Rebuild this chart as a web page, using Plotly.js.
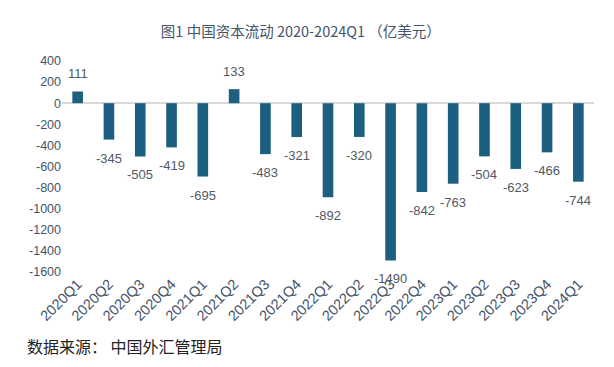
<!DOCTYPE html>
<html>
<head>
<meta charset="utf-8">
<script src="https://cdn.plot.ly/plotly-3.0.1.min.js"></script>
<style>html,body{margin:0;padding:0;background:#fff;}#chart{width:614px;height:367px;}</style>
</head>
<body>
<div id="chart"></div>
<script>
const categories = ["2020Q1","2020Q2","2020Q3","2020Q4","2021Q1","2021Q2","2021Q3","2021Q4","2022Q1","2022Q2","2022Q3","2022Q4","2023Q1","2023Q2","2023Q3","2023Q4","2024Q1"];
const values = [111,-345,-505,-419,-695,133,-483,-321,-892,-320,-1490,-842,-763,-504,-623,-466,-744];
const yTicks = [400,200,0,-200,-400,-600,-800,-1000,-1200,-1400,-1600];

const FONT = '"Liberation Sans", Arial, "Noto Sans CJK SC", sans-serif';
const CJK = '"Noto Sans CJK SC", "Liberation Sans", sans-serif';
const labelColor = '#44546a';

const annotations = categories.map((c, i) => ({
  x: c, y: values[i], xref: 'x', yref: 'y',
  text: String(values[i]), showarrow: false,
  yanchor: values[i] >= 0 ? 'bottom' : 'top',
  yshift: values[i] >= 0 ? 8 : -9,
  font: {family: FONT, size: 13, color: '#505a66'}
}));
annotations.push({
  xref: 'paper', yref: 'paper', x: -0.0695, y: -0.351, xanchor: 'left', yanchor: 'middle',
  text: '数据来源： 中国外汇管理局', showarrow: false,
  font: {family: CJK, size: 16, color: '#222222'}
});

Plotly.newPlot('chart', [{
  type: 'bar', x: categories, y: values,
  marker: {color: '#1d5f80'},
  hoverinfo: 'x+y'
}], {
  width: 614, height: 367,
  margin: {l: 62, r: 20, t: 61, b: 95},
  paper_bgcolor: '#ffffff', plot_bgcolor: '#ffffff',
  bargap: 0.66,
  showlegend: false,
  title: {text: '图1 中国资本流动 2020-2024Q1 （亿美元）', x: 0.49, xref: 'container', xanchor: 'center', y: 0.913, yref: 'container', yanchor: 'middle',
    font: {family: CJK, size: 14.5, color: labelColor}},
  xaxis: {
    type: 'category', tickangle: -45, showgrid: false, zeroline: false, showline: false, ticks: '',
    tickfont: {family: FONT, size: 14.5, color: labelColor}, automargin: false
  },
  yaxis: {
    range: [-1600, 400], tickmode: 'array', tickvals: yTicks, ticktext: yTicks.map(String),
    showgrid: false, zeroline: true, zerolinecolor: '#d9d9d9', zerolinewidth: 1.5, showline: false, ticks: '',
    tickfont: {family: FONT, size: 12.5, color: labelColor}, automargin: false
  },
  annotations: annotations
}, {displayModeBar: false, staticPlot: true});
</script>
</body>
</html>
